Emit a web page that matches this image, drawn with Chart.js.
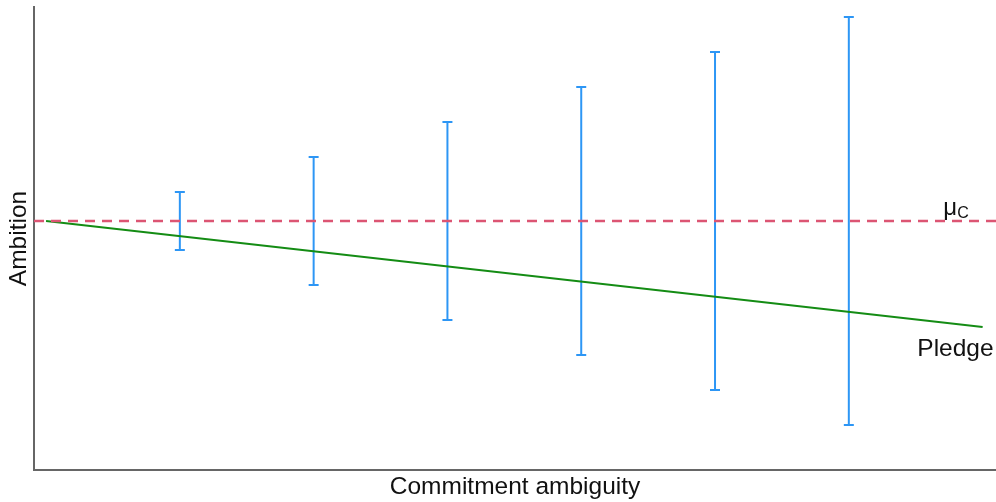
<!DOCTYPE html>
<html>
<head>
<meta charset="utf-8">
<script src="https://cdn.jsdelivr.net/npm/chart.js@4.4.0/dist/chart.umd.min.js"></script>
<style>
  html, body { margin: 0; padding: 0; background: #fff; overflow: hidden; }
  #wrap { width: 996px; height: 502px; }
  canvas { display: block; }
</style>
</head>
<body>
<div id="wrap"><canvas id="chart" width="996" height="502"></canvas></div>
<script>
// positions along commitment ambiguity
var barX = [1, 2, 3, 4, 5, 6];
// half-width of each error bar (ambition units)
var barHalf = [2.9, 6.4, 9.9, 13.4, 16.9, 20.4];
var muC = 0;
var pledgeX = [0, 7];
var pledgeY = [0, -10.6];
var xRange = [-0.09, 7.1];
var yRange = [-24.9, 21.4];

var datasets = [];

datasets.push({
  label: "muC",
  data: [{ x: xRange[0], y: muC }, { x: xRange[1], y: muC }],
  borderColor: "rgb(220, 85, 115)",
  borderWidth: 2.5,
  borderDash: [10, 7],
  pointRadius: 0,
});

datasets.push({
  label: "Pledge",
  data: pledgeX.map(function (x, i) {
    return { x: x, y: pledgeY[i] };
  }),
  borderColor: "rgb(20, 140, 20)",
  borderWidth: 2,
  pointRadius: 0,
});

barX.forEach(function (x, i) {
  datasets.push({
    label: "bar" + i,
    data: [
      { x: x, y: muC - barHalf[i] },
      { x: x, y: muC + barHalf[i] },
    ],
    borderColor: "rgb(45, 150, 245)",
    borderWidth: 2,
    pointStyle: "line",
    pointRadius: 5,
    pointBorderWidth: 2,
    pointBorderColor: "rgb(45, 150, 245)",
  });
});

// text labels next to the lines
var lineLabels = {
  id: "lineLabels",
  afterDatasetsDraw: function (chart) {
    var ctx = chart.ctx;
    var xs = chart.scales.x;
    var ys = chart.scales.y;
    ctx.save();
    ctx.fillStyle = "#111";
    ctx.textBaseline = "alphabetic";
    ctx.textAlign = "right";
    ctx.font = "24.5px 'Liberation Sans', Arial, sans-serif";
    var px = xs.getPixelForValue(pledgeX[1]);
    var py = ys.getPixelForValue(pledgeY[1]);
    ctx.fillText("Pledge", px + 11, py + 29);
    var mx = xs.getPixelForValue(6.705);
    var my = ys.getPixelForValue(muC);
    ctx.textAlign = "left";
    ctx.font = "24px 'Liberation Sans', Arial, sans-serif";
    ctx.fillText("μ", mx, my - 6);
    ctx.font = "16px 'Liberation Sans', Arial, sans-serif";
    ctx.fillText("C", mx + 14, my - 3);
    ctx.restore();
  },
};

var ctx = document.getElementById("chart");
var myChart = new Chart(ctx, {
  type: "line",
  data: { datasets: datasets },
  options: {
    responsive: false,
    animation: false,
    layout: { autoPadding: false, padding: { top: 7, right: 0, left: 0, bottom: 0 } },
    plugins: {
      legend: { display: false },
      tooltip: { enabled: false },
    },
    scales: {
      x: {
        type: "linear",
        min: xRange[0],
        max: xRange[1],
        grid: { display: false },
        ticks: { display: false },
        border: { display: true, color: "#666", width: 2 },
        title: {
          display: true,
          text: "Commitment ambiguity",
          color: "#111",
          font: { family: "'Liberation Sans', Arial, sans-serif", size: 24.5 },
          padding: { top: 3, bottom: 0 },
        },
        afterFit: function (s) {
          s.height = 32;
        },
      },
      y: {
        type: "linear",
        min: yRange[0],
        max: yRange[1],
        grid: { display: false },
        ticks: { display: false },
        border: { display: true, color: "#666", width: 2 },
        title: {
          display: true,
          text: "Ambition",
          color: "#111",
          font: { family: "'Liberation Sans', Arial, sans-serif", size: 24.5 },
          padding: { top: 5, bottom: 0 },
        },
        afterFit: function (s) {
          s.width = 34;
        },
      },
    },
  },
  plugins: [lineLabels],
});
</script>
</body>
</html>
